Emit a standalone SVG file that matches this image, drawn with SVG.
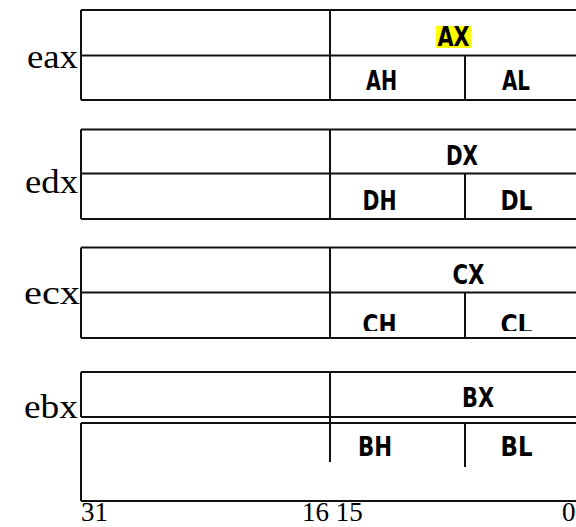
<svg xmlns="http://www.w3.org/2000/svg" width="576" height="527" viewBox="0 0 576 527">
<style>
.ln{stroke:#111;stroke-width:2;fill:none}
.reg{font-family:"Liberation Serif","Times New Roman",serif;font-size:33px;fill:#000}
.lbl{font-family:"Liberation Sans Narrow","DejaVu Sans Condensed","Liberation Sans",sans-serif;font-weight:bold;font-size:26px;fill:#000}
.num{font-family:"Liberation Serif","Times New Roman",serif;font-size:27px;fill:#000}
</style>
<defs>
<clipPath id="clipC"><rect x="330" y="293" width="246" height="38"/></clipPath>
</defs>
<rect width="576" height="527" fill="#fff"/>
<g id="eax">
<text class="reg" x="27" y="68" textLength="51" lengthAdjust="spacingAndGlyphs">eax</text>
<path class="ln" d="M81,10H580M81,55.5H580M81,100H580M81,10V100M330,10V100M465,55.5V100"/>
<rect x="436" y="26" width="35" height="22" fill="#ffff00"/>
<text class="lbl" x="453.5" y="46" text-anchor="middle" textLength="32" lengthAdjust="spacingAndGlyphs">AX</text>
<text class="lbl" x="381.5" y="90" text-anchor="middle" textLength="31" lengthAdjust="spacingAndGlyphs">AH</text>
<text class="lbl" x="516" y="90" text-anchor="middle" textLength="28" lengthAdjust="spacingAndGlyphs">AL</text>
</g>
<g id="edx">
<text class="reg" x="25" y="193" textLength="53" lengthAdjust="spacingAndGlyphs">edx</text>
<path class="ln" d="M81,129.5H580M81,173.5H580M81,219H580M81,129.5V219M330,129.5V219M465,173.5V219"/>
<text class="lbl" x="462" y="165" text-anchor="middle" textLength="32" lengthAdjust="spacingAndGlyphs">DX</text>
<text class="lbl" x="379.5" y="210" text-anchor="middle" textLength="34" lengthAdjust="spacingAndGlyphs">DH</text>
<text class="lbl" x="516.5" y="210" text-anchor="middle" textLength="32" lengthAdjust="spacingAndGlyphs">DL</text>
</g>
<g id="ecx">
<text class="reg" x="24" y="304" textLength="56" lengthAdjust="spacingAndGlyphs">ecx</text>
<path class="ln" d="M81,247.5H580M81,292.5H580M81,338H580M81,247.5V338M330,247.5V338M465,292.5V338"/>
<text class="lbl" x="468.5" y="284" text-anchor="middle" textLength="32" lengthAdjust="spacingAndGlyphs">CX</text>
<g clip-path="url(#clipC)">
<text class="lbl" x="379.5" y="334" text-anchor="middle" textLength="34" lengthAdjust="spacingAndGlyphs">CH</text>
<text class="lbl" x="516.5" y="334" text-anchor="middle" textLength="32" lengthAdjust="spacingAndGlyphs">CL</text>
</g>
</g>
<g id="ebx">
<text class="reg" x="24" y="418" textLength="54" lengthAdjust="spacingAndGlyphs">ebx</text>
<path class="ln" d="M81,372H580M81,417H580M81,372V417M81,423H580M81,501H580M81,423V501M330,372V462M465,423V467"/>
<text class="lbl" x="478" y="407" text-anchor="middle" textLength="32" lengthAdjust="spacingAndGlyphs">BX</text>
<text class="lbl" x="375" y="456" text-anchor="middle" textLength="34" lengthAdjust="spacingAndGlyphs">BH</text>
<text class="lbl" x="516.5" y="456" text-anchor="middle" textLength="32" lengthAdjust="spacingAndGlyphs">BL</text>
</g>
<g id="scale">
<text class="num" x="81" y="521">31</text>
<text class="num" x="302" y="521">16 15</text>
<text class="num" x="562" y="521">0</text>
</g>
</svg>
